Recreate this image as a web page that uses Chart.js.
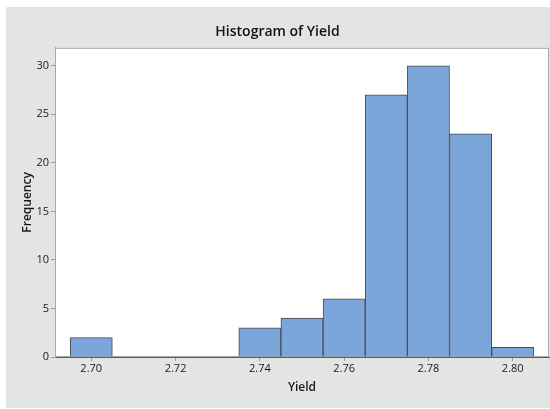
<!DOCTYPE html>
<html>
<head>
<meta charset="utf-8">
<script src="https://cdn.jsdelivr.net/npm/chart.js@4"></script>
<style>
    html, body { margin: 0; padding: 0; background: #fff; }
</style>
</head>
<body>
<canvas id="graph_yield" width="550" height="409"></canvas>
<script>
// ---------- datos del histograma ----------
const binCenters = [2.70, 2.71, 2.72, 2.73, 2.74, 2.75, 2.76, 2.77, 2.78, 2.79, 2.80];
const frequencies = [2, 0, 0, 0, 3, 4, 6, 27, 30, 23, 1];
const xTickValues = [2.70, 2.72, 2.74, 2.76, 2.78, 2.80];
const yTickValues = [0, 5, 10, 15, 20, 25, 30];

(function(){
    Chart.defaults.font.family = '"Open Sans", "Noto Sans", sans-serif';
    Chart.defaults.color = '#1a1a1a';

    const puntos = [];
    for (let i = 0; i < binCenters.length; i++) {
        puntos.push({x: binCenters[i], y: frequencies[i]})
    }

    // fondo gris + marco blanco del area de datos
    const fondo = {
        id: 'fondo',
        beforeDraw(chart) {
            const ctx = chart.ctx;
            const a = chart.chartArea;
            ctx.save();
            ctx.fillStyle = '#ffffff';
            ctx.fillRect(0, 0, chart.width, chart.height);
            ctx.fillStyle = '#e4e4e4';
            ctx.fillRect(6, 7, chart.width - 6, chart.height - 8);
            ctx.fillStyle = '#ffffff';
            ctx.fillRect(a.left, a.top, a.right - a.left, a.bottom - a.top);
            ctx.strokeStyle = '#a9a9a9';
            ctx.lineWidth = 1;
            ctx.strokeRect(a.left + 0.5, a.top + 0.5, a.right - a.left - 1, a.bottom - a.top - 1);
            ctx.restore();
        }
    };

    const data_hist = {
        datasets: [{
            label: 'Yield',
            data: puntos,
            backgroundColor: '#7aa6d9',
            borderColor: '#4b4b4b',
            borderWidth: 1,
            barPercentage: 1,
            categoryPercentage: 1
        }]
    };

    const config = {
        type: 'bar',
        data: data_hist,
        options: {
            responsive: false,
            animation: false,
            layout: {
                padding: {left: 6, right: 1, top: 0, bottom: 0}
            },
            scales: {
                x: {
                    type: 'linear',
                    min: 2.6914,
                    max: 2.8086,
                    offset: false,
                    afterBuildTicks: function(scale) {
                        scale.ticks = xTickValues.map(v => ({value: v}));
                    },
                    afterFit: function(scale) {
                        scale.height = 52;
                    },
                    ticks: {
                        autoSkip: false,
                        maxRotation: 0,
                        padding: 1,
                        font: {size: 11, weight: 500},
                        callback: function(value) {
                            return value.toFixed(2)
                        }
                    },
                    grid: {
                        offset: false,
                        drawOnChartArea: false,
                        tickLength: 4,
                        color: '#9a9a9a'
                    },
                    border: {color: '#5a5a5a'},
                    title: {
                        display: true,
                        text: 'Yield',
                        font: {size: 12, weight: 600},
                        padding: {top: 0, bottom: 14}
                    }
                },
                y: {
                    min: 0,
                    max: 31.85,
                    afterBuildTicks: function(scale) {
                        scale.ticks = yTickValues.map(v => ({value: v}));
                    },
                    afterFit: function(scale) {
                        scale.width = 49;
                    },
                    ticks: {
                        padding: 2,
                        font: {size: 11, weight: 500}
                    },
                    grid: {
                        drawOnChartArea: false,
                        tickLength: 4,
                        color: '#9a9a9a'
                    },
                    border: {color: '#a9a9a9'},
                    title: {
                        display: true,
                        text: 'Frequency',
                        font: {size: 12, weight: 600},
                        padding: {top: 14, bottom: 0}
                    }
                }
            },
            plugins: {
                legend: {display: false},
                tooltip: {enabled: false},
                title: {
                    display: true,
                    text: 'Histogram of Yield',
                    color: '#111111',
                    font: {size: 14, weight: 600},
                    padding: {top: 24, bottom: 7}
                }
            }
        },
        plugins: [fondo]
    };

    const hist_chart = new Chart(
        document.getElementById('graph_yield'),
        config
    );
})();
</script>
</body>
</html>
